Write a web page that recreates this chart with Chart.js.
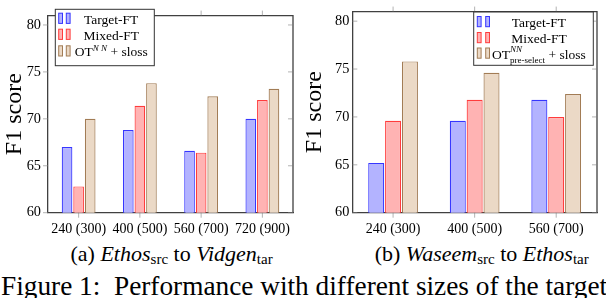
<!DOCTYPE html>
<html>
<head>
<meta charset="utf-8">
<script src="https://cdn.jsdelivr.net/npm/chart.js@4"></script>
<style>
  body { margin: 0; width: 606px; height: 298px; overflow: hidden; background: #fff; position: relative; font-family: "Liberation Serif", serif; color: #000; }
  .wrap { position: absolute; top: 0; }
  .cap { position: absolute; white-space: nowrap; text-align: center; font-size: 22px; line-height: 22px; }
  .cap sub { font-size: 15px; vertical-align: -3px; line-height: 0; }
  .fig { position: absolute; left: 1px; top: 272.5px; white-space: nowrap; font-size: 27.3px; line-height: 27px; }
</style>
</head>
<body>
<div class="wrap" style="left:0"><canvas id="chartA" width="300" height="240"></canvas></div>
<div class="wrap" style="left:300px"><canvas id="chartB" width="306" height="240"></canvas></div>
<div class="cap" style="left:70.5px;width:200px;top:243px">(a) <i>Ethos</i><sub>src</sub> to <i>Vidgen</i><sub>tar</sub></div>
<div class="cap" style="left:374.7px;width:200px;top:243px">(b) <i>Waseem</i><sub>src</sub> to <i>Ethos</i><sub>tar</sub></div>
<div class="fig">Figure 1:&nbsp; Performance with different sizes of the target</div>
<script>
// ===== Data =====
const categoriesA = ["240 (300)", "400 (500)", "560 (700)", "720 (900)"];
const targetFtA   = [67.0, 68.8, 66.6, 70.0];
const mixedFtA    = [62.8, 71.4, 66.4, 72.0];
const otA         = [70.0, 73.8, 72.4, 73.2];

const categoriesB = ["240 (300)", "400 (500)", "560 (700)"];
const targetFtB   = [65.2, 69.6, 71.8];
const mixedFtB    = [69.6, 71.8, 70.0];
const otB         = [75.8, 74.6, 72.4];

const yTicks = [60, 65, 70, 75, 80];
const yMin = 60, yMax = 81;

const SERIF = "'Liberation Serif', serif";
const AXIS = "#404040";
const COLORS = [
  { fill: "#b3b3ff", line: "#3636ff" },
  { fill: "#ffb3b3", line: "#ff3c3c" },
  { fill: "#ebd9c6", line: "#a27c55" }
];

// Box frame + pgfplots-style tick marks
const frame = {
  id: "frame",
  afterDraw(chart, args, o) {
    const { ctx, chartArea: a } = chart;
    const xs = chart.scales.x, ys = chart.scales.y;
    ctx.save();
    ctx.strokeStyle = AXIS;
    ctx.lineWidth = 1.3;
    ctx.beginPath();
    ctx.moveTo(a.left, a.top); ctx.lineTo(a.right, a.top); ctx.lineTo(a.right, a.bottom);
    ctx.stroke();
    ctx.lineWidth = 0.6;
    ctx.strokeStyle = "#808080";
    ctx.beginPath();
    xs.ticks.forEach((t, i) => {
      const x = xs.getPixelForTick(i);
      ctx.moveTo(x, a.top); ctx.lineTo(x, a.top - 5);
      ctx.moveTo(x, a.bottom); ctx.lineTo(x, a.bottom + 5);
    });
    yTicks.forEach(v => {
      const y = ys.getPixelForValue(v);
      ctx.moveTo(a.right, y); ctx.lineTo(a.right - 5, y);
      ctx.moveTo(a.left, y); ctx.lineTo(a.left + (o.leftInside ? 5 : -5), y);
    });
    ctx.stroke();
    ctx.restore();
  }
};

// Legend box drawn inside the plot, text centred in its column
const boxLegend = {
  id: "boxLegend",
  afterDraw(chart, args, o) {
    const ctx = chart.ctx;
    ctx.save();
    ctx.fillStyle = "#fff";
    ctx.fillRect(o.x, o.y, o.w, o.h);
    ctx.strokeStyle = "#333";
    ctx.lineWidth = 1;
    ctx.strokeRect(o.x, o.y, o.w, o.h);
    ctx.textBaseline = "alphabetic";
    const fontOf = p => (p.italic ? "italic " : "") + p.size + "px " + SERIF;
    o.rows.forEach((r, i) => {
      const c = COLORS[i];
      o.icons.forEach(ix => {
        ctx.fillStyle = c.fill;
        ctx.fillRect(ix, r.base - 10.5, 3.8, 10.2);
        ctx.strokeStyle = c.line;
        ctx.lineWidth = 1;
        ctx.strokeRect(ix, r.base - 10.5, 3.8, 10.2);
      });
      let total = 0;
      r.parts.forEach(p => { ctx.font = fontOf(p); if (!p.stack) total += ctx.measureText(p.text).width; });
      let x = o.cx - total / 2;
      r.parts.forEach(p => {
        ctx.font = fontOf(p);
        ctx.fillStyle = "#000";
        ctx.fillText(p.text, x, r.base + (p.dy || 0));
        if (!p.stack) x += ctx.measureText(p.text).width;
      });
    });
    ctx.restore();
  }
};

function makeChart(id, cats, t, m, ot, opt) {
  const series = [["Target-FT", t], ["Mixed-FT", m], ["OT", ot]];
  return new Chart(document.getElementById(id), {
    type: "bar",
    data: {
      labels: cats,
      datasets: series.map(([name, vals], i) => ({
        label: name, data: vals,
        backgroundColor: COLORS[i].fill, borderColor: COLORS[i].line,
        borderWidth: 1.2, borderSkipped: false
      }))
    },
    options: {
      responsive: false, animation: false, devicePixelRatio: 1,
      layout: { padding: { left: 0, right: opt.padRight, top: 6, bottom: 0 } },
      datasets: { bar: { categoryPercentage: opt.catPct, barPercentage: opt.barPct } },
      plugins: {
        legend: { display: false }, tooltip: { enabled: false },
        boxLegend: opt.legend, frame: { leftInside: opt.leftInside }
      },
      scales: {
        x: {
          offset: true,
          grid: { display: false, drawTicks: false },
          border: { display: true, color: AXIS, width: 1.3 },
          ticks: { font: { family: SERIF, size: 14 }, color: "#000", padding: 8.5, maxRotation: 0, autoSkip: false },
          afterFit: s => { s.height = 240 - 212.7; }
        },
        y: {
          min: yMin, max: yMax,
          afterBuildTicks: s => { s.ticks = yTicks.map(v => ({ value: v })); },
          grid: { display: false, drawTicks: false },
          border: { display: true, color: AXIS, width: 1.3 },
          ticks: { font: { family: SERIF, size: 14.3 }, color: "#000", padding: opt.yPad },
          title: { display: true, text: "F1 score", color: "#000", font: { family: SERIF, size: 24 }, padding: { top: 0, bottom: 0 } },
          afterFit: s => { s.width = opt.yAxisW; }
        }
      }
    },
    plugins: [frame, boxLegend]
  });
}

makeChart("chartA", categoriesA, targetFtA, mixedFtA, otA, {
  padRight: 7, yAxisW: 48, yPad: 7, catPct: 0.567, barPct: 0.92, leftInside: false,
  legend: {
    x: 55.3, y: 9.3, w: 99, h: 56.4, icons: [58.7, 66.3], cx: 111.2,
    rows: [
      { base: 23.7, parts: [{ text: "Target-FT", size: 13.5 }] },
      { base: 39.7, parts: [{ text: "Mixed-FT", size: 13.5 }] },
      { base: 56.3, parts: [{ text: "OT", size: 13.5 }, { text: "N N", size: 9, italic: true, dy: -5.5 }, { text: " + sloss", size: 13.5 }] }
    ]
  }
});

makeChart("chartB", categoriesB, targetFtB, mixedFtB, otB, {
  padRight: 9, yAxisW: 52.3, yPad: 3, catPct: 0.62, barPct: 0.95, leftInside: true,
  legend: {
    x: 173.7, y: 12, w: 119.6, h: 53.3, icons: [177.3, 185.7], cx: 238.9,
    rows: [
      { base: 27, parts: [{ text: "Target-FT", size: 13.5 }] },
      { base: 43, parts: [{ text: "Mixed-FT", size: 13.5 }] },
      { base: 58.5, parts: [{ text: "OT", size: 13.5 }, { text: "NN", size: 9, italic: true, dy: -6.5, stack: true }, { text: "pre-select", size: 9, dy: 4 }, { text: " + sloss", size: 13.5 }] }
    ]
  }
});
</script>
</body>
</html>
